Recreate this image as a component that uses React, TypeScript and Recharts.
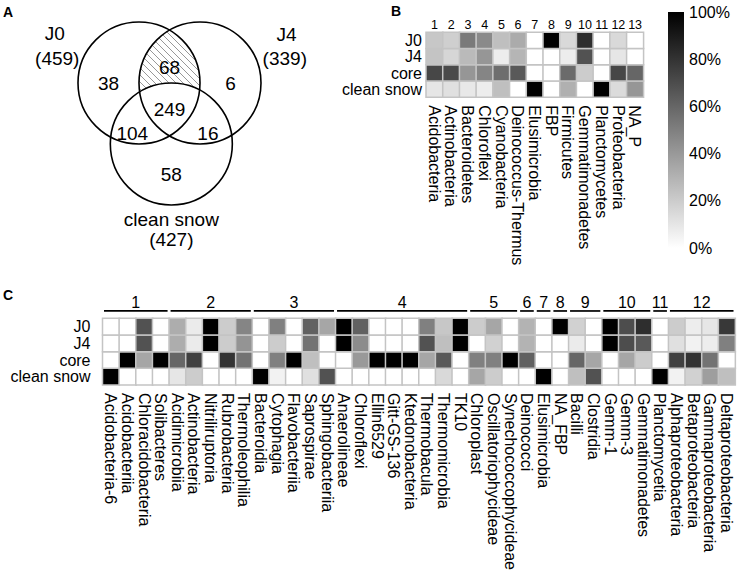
import React from "react";
import {
  ScatterChart,
  Scatter,
  BarChart,
  Bar,
  Cell,
  XAxis,
  YAxis,
  LabelList,
  ReferenceArea,
} from "recharts";

const FONT = '"Liberation Sans", Arial, Helvetica, sans-serif';

// ---------- A: Venn diagram ----------
const vennSets = ["J0", "J4", "clean snow"];
const vennTotals = [459, 339, 427];
// J0 only, J0&J4 only, J4 only, all three, J0&snow, J4&snow, snow only
const vennCounts = [38, 68, 6, 249, 104, 16, 58];

// ---------- B: phylum heatmap ----------
const rowNames = ["J0", "J4", "core", "clean snow"];
const phyla = [
  "Acidobacteria",
  "Actinobacteria",
  "Bacteroidetes",
  "Chloroflexi",
  "Cyanobacteria",
  "Deinococcus-Thermus",
  "Elusimicrobia",
  "FBP",
  "Firmicutes",
  "Gemmatimonadetes",
  "Planctomycetes",
  "Proteobacteria",
  "NA_P",
];
const phylumJ0 = [22, 19, 52, 46, 25, 33, 0, 100, 15, 82, 0, 15, 0];
const phylumJ4 = [23, 16, 27, 41, 7, 29, 0, 0, 7, 68, 0, 10, 0];
const phylumCore = [72, 71, 41, 48, 57, 65, 0, 0, 58, 20, 0, 72, 60];
const phylumSnow = [10, 12, 9, 7, 25, 0, 100, 0, 31, 0, 100, 14, 41];

// ---------- C: class heatmap ----------
const classes = [
  "Acidobacteria-6", "Acidobacteriia", "Chloracidobacteria", "Solibacteres",
  "Acidimicrobiia", "Actinobacteria", "Nitriliruptoria", "Rubrobacteria", "Thermoleophilia",
  "Bacteroidia", "Cytophagia", "Flavobacteriia", "Saprospirae", "Sphingobacteriia",
  "Anaerolineae", "Chloroflexi", "Ellin6529", "Gitt-GS-136", "Ktedonobacteria", "Thermobacula", "Thermomicrobia", "TK10",
  "Chloroplast", "Oscillatoriophycideae", "Synechococcophycideae",
  "Deinococci",
  "Elusimicrobia",
  "NA_FBP",
  "Bacilli", "Clostridia",
  "Gemm-1", "Gemm-3", "Gemmatimonadetes",
  "Planctomycetia",
  "Alphaproteobacteria", "Betaproteobacteria", "Gammaproteobacteria", "Deltaproteobacteria",
];
const classGroup = [
  1, 1, 1, 1,
  2, 2, 2, 2, 2,
  3, 3, 3, 3, 3,
  4, 4, 4, 4, 4, 4, 4, 4,
  5, 5, 5,
  6,
  7,
  8,
  9, 9,
  10, 10, 10,
  11,
  12, 12, 12, 12,
];
const classJ0 = [
  0, 0, 68, 0,
  32, 8, 100, 20, 48,
  0, 50, 0, 62, 35,
  100, 62, 0, 0, 0, 50, 22, 100,
  20, 35, 0,
  30,
  0,
  100,
  18, 0,
  100, 70, 82,
  0,
  20, 7, 10, 78,
];
const classJ4 = [
  0, 0, 68, 0,
  32, 8, 100, 20, 42,
  0, 20, 0, 55, 0,
  100, 45, 0, 0, 0, 68, 25, 100,
  0, 18, 0,
  30,
  0,
  0,
  8, 0,
  100, 70, 65,
  0,
  12, 5, 7, 50,
];
const classCore = [
  0, 100, 35, 100,
  60, 75, 0, 80, 55,
  0, 50, 100, 25, 0,
  0, 40, 100, 100, 100, 35, 65, 0,
  50, 50, 100,
  62,
  0,
  0,
  60, 35,
  0, 35, 20,
  0,
  75, 80, 55, 0,
];
const classSnow = [
  100, 0, 0, 0,
  10, 20, 0, 0, 0,
  100, 5, 0, 12, 68,
  0, 0, 0, 0, 0, 0, 15, 0,
  35, 20, 0,
  0,
  100,
  0,
  25, 68,
  0, 0, 0,
  100,
  5, 18, 38, 25,
];

const scaleTicks = [0, 20, 40, 60, 80, 100];

// ---------- layout (venn units: circle radius = 1) ----------
const K = 61; // px per venn unit
const CIRCLE_AT = [[0, 0], [1, 0], [0.53, -1]];
const COUNT_AT = [[-0.5, 0], [0.5, 0.25], [1.5, 0], [0.5, -0.43], [-0.11, -0.82], [1.13, -0.82], [0.53, -1.49]];
const NAME_AT = [[-1.38, 0.82], [2.42, 0.8], [0.53, -2.23]];
const TOTAL_AT = [[-1.34, 0.41], [2.39, 0.41], [0.53, -2.57]];

const gray = (v: number) => {
  const g = Math.round(255 * (1 - v / 100));
  return `rgb(${g},${g},${g})`;
};

const GRID = "#c4c4c4";

const circleData = vennSets.map((name, i) => ({ name, x: CIRCLE_AT[i][0], y: CIRCLE_AT[i][1] }));
const countData = vennCounts.map((c, i) => ({ label: String(c), x: COUNT_AT[i][0], y: COUNT_AT[i][1] }));
const setLabelData = [
  ...vennSets.map((n, i) => ({ label: n, x: NAME_AT[i][0], y: NAME_AT[i][1] })),
  ...vennTotals.map((t, i) => ({ label: `(${t})`, x: TOTAL_AT[i][0], y: TOTAL_AT[i][1] })),
];

const HatchShape = (p: any) => {
  const { cx, cy } = p;
  const at = (i: number) => [
    cx + (CIRCLE_AT[i][0] - CIRCLE_AT[0][0]) * K,
    cy - (CIRCLE_AT[i][1] - CIRCLE_AT[0][1]) * K,
  ];
  const [ax, ay] = at(1);
  const [sx, sy] = at(2);
  return (
    <g>
      <defs>
        <pattern id="hatch" patternUnits="userSpaceOnUse" width={7} height={7}>
          <path d="M-1,-1 L8,8 M-1,6 L1,8 M6,-1 L8,1" stroke="#8c8c8c" strokeWidth={0.9} />
        </pattern>
        <clipPath id="clipJ4">
          <circle cx={ax} cy={ay} r={K} />
        </clipPath>
        <mask id="noSnow">
          <rect x={cx - 200} y={cy - 200} width={500} height={500} fill="#fff" />
          <circle cx={sx} cy={sy} r={K} fill="#000" />
        </mask>
      </defs>
      <g clipPath="url(#clipJ4)">
        <g mask="url(#noSnow)">
          <circle cx={cx} cy={cy} r={K} fill="url(#hatch)" />
        </g>
      </g>
    </g>
  );
};

const CircleShape = (p: any) => (
  <circle cx={p.cx} cy={p.cy} r={K} fill="none" stroke="#000" strokeWidth={1.6} />
);

const TextShape = (p: any) => (
  <text x={p.cx} y={p.cy} dy="0.35em" textAnchor="middle" fontSize={19} fill="#000">
    {p.payload.label}
  </text>
);

// plot area = whole chart; 6 x 5 venn units at K px each
function Venn() {
  return (
    <ScatterChart width={6 * K} height={5 * K} margin={{ top: 0, right: 0, bottom: 0, left: 0 }}>
      <XAxis type="number" dataKey="x" domain={[-3, 3]} hide />
      <YAxis type="number" dataKey="y" domain={[-3, 2]} hide />
      <Scatter data={[circleData[0]]} shape={HatchShape} isAnimationActive={false} />
      <Scatter data={circleData} shape={CircleShape} isAnimationActive={false} />
      <Scatter data={countData} shape={TextShape} isAnimationActive={false} />
      <Scatter data={setLabelData} shape={TextShape} isAnimationActive={false} />
    </ScatterChart>
  );
}

const RotTick = (p: any) => (
  <text
    transform={`translate(${p.x},${p.y}) rotate(90)`}
    dy="0.35em"
    textAnchor="start"
    fontSize={16}
    fill="#000"
  >
    {p.payload.value}
  </text>
);

const RowTick = (p: any) => (
  <text x={p.x} y={p.y} dy="0.35em" textAnchor="end" fontSize={16} fill="#000">
    {rowNames[3 - Math.floor(p.payload.value)]}
  </text>
);

// stacked from bottom: clean snow, core, J4, J0
function stackBars(series: number[][], withNumbers: boolean) {
  const keys = ["snow", "core", "j4", "j0"];
  return keys.map((k, si) => (
    <Bar key={k} dataKey={k} stackId="a" stroke={GRID} strokeWidth={1.5} isAnimationActive={false}>
      {series[si].map((v, i) => (
        <Cell key={i} fill={gray(v)} />
      ))}
      {withNumbers && k === "j0" ? (
        <LabelList dataKey="num" position="top" offset={3} fill="#000" fontSize={12.5} />
      ) : null}
    </Bar>
  ));
}

const phylumRows = phyla.map((name, i) => ({ name, num: i + 1, snow: 1, core: 1, j4: 1, j0: 1 }));
const classRows = classes.map((name) => ({ name, snow: 1, core: 1, j4: 1, j0: 1 }));

const groupIds = Array.from(new Set(classGroup));

function PhylumHeatmap() {
  return (
    <BarChart
      width={340}
      height={280}
      data={phylumRows}
      margin={{ top: 32.3, right: 26.7, bottom: 0, left: 6 }}
      barCategoryGap={0}
    >
      <XAxis dataKey="name" height={182.7} interval={0} axisLine={false} tickLine={false} tick={<RotTick />} />
      <YAxis
        type="number"
        domain={[0, 4]}
        ticks={[0.5, 1.5, 2.5, 3.5]}
        interval={0}
        width={90}
        axisLine={false}
        tickLine={false}
        tickSize={2}
        tickMargin={2}
        tick={<RowTick />}
      />
      {stackBars([phylumSnow, phylumCore, phylumJ4, phylumJ0], true)}
    </BarChart>
  );
}

function ColorScale() {
  return (
    <BarChart
      width={97}
      height={260}
      data={[{ name: "scale", v: 100 }]}
      margin={{ top: 12, right: 0, bottom: 12, left: 28 }}
      barCategoryGap={0}
    >
      <defs>
        <linearGradient id="gbar" x1="0" y1="0" x2="0" y2="1">
          <stop offset="0" stopColor="#000" />
          <stop offset="1" stopColor="#fff" />
        </linearGradient>
      </defs>
      <XAxis dataKey="name" hide />
      <YAxis
        orientation="right"
        type="number"
        domain={[0, 100]}
        ticks={scaleTicks}
        interval={0}
        tickFormatter={(v: number) => `${v}%`}
        width={53}
        axisLine={false}
        tickLine={false}
        tickSize={0}
        tickMargin={5}
        tick={{ fill: "#000", fontSize: 16 }}
      />
      <Bar dataKey="v" fill="url(#gbar)" isAnimationActive={false} />
    </BarChart>
  );
}

const GroupLine = (p: any) => (
  <line
    x1={p.x + 1.5}
    x2={p.x + p.width - 1.5}
    y1={p.y + p.height}
    y2={p.y + p.height}
    stroke="#000"
    strokeWidth={1.7}
  />
);

function ClassHeatmap() {
  return (
    <BarChart
      width={737}
      height={297}
      data={classRows}
      margin={{ top: 13.3, right: 2, bottom: 0, left: 7.5 }}
      barCategoryGap={0}
    >
      <XAxis dataKey="name" height={192} interval={0} axisLine={false} tickLine={false} tick={<RotTick />} />
      <YAxis
        type="number"
        domain={[0, 5.5]}
        ticks={[0.5, 1.5, 2.5, 3.5]}
        interval={0}
        width={95}
        axisLine={false}
        tickLine={false}
        tickSize={2}
        tickMargin={10}
        tick={<RowTick />}
      />
      {stackBars([classSnow, classCore, classJ4, classJ0], false)}
      {groupIds.map((g) => {
        const first = classes[classGroup.indexOf(g)];
        const last = classes[classGroup.lastIndexOf(g)];
        return (
          <ReferenceArea
            key={g}
            x1={first}
            x2={last}
            y1={4.44}
            y2={5.5}
            ifOverflow="visible"
            shape={GroupLine}
            label={{ value: String(g), position: "insideBottom", offset: 3, fill: "#000", fontSize: 16 }}
          />
        );
      })}
    </BarChart>
  );
}

const panelLabel: React.CSSProperties = {
  position: "absolute",
  fontWeight: "bold",
  fontSize: 14,
  lineHeight: "14px",
};

export default function App() {
  return (
    <div
      style={{
        position: "absolute",
        left: 0,
        top: 0,
        width: 737,
        height: 577,
        background: "#fff",
        fontFamily: FONT,
        overflow: "hidden",
      }}
    >
      {/* J0 circle centre sits at (139, 83) on the page */}
      <div style={{ position: "absolute", left: 139 - 3 * K, top: 83 - 2 * K }}>
        <Venn />
      </div>
      <div style={{ position: "absolute", left: 330, top: 0 }}>
        <PhylumHeatmap />
      </div>
      <div style={{ position: "absolute", left: 640, top: 0 }}>
        <ColorScale />
      </div>
      <div style={{ position: "absolute", left: 0, top: 280 }}>
        <ClassHeatmap />
      </div>
      <div style={{ ...panelLabel, left: 3, top: 5 }}>A</div>
      <div style={{ ...panelLabel, left: 391, top: 4 }}>B</div>
      <div style={{ ...panelLabel, left: 3, top: 288 }}>C</div>
    </div>
  );
}
